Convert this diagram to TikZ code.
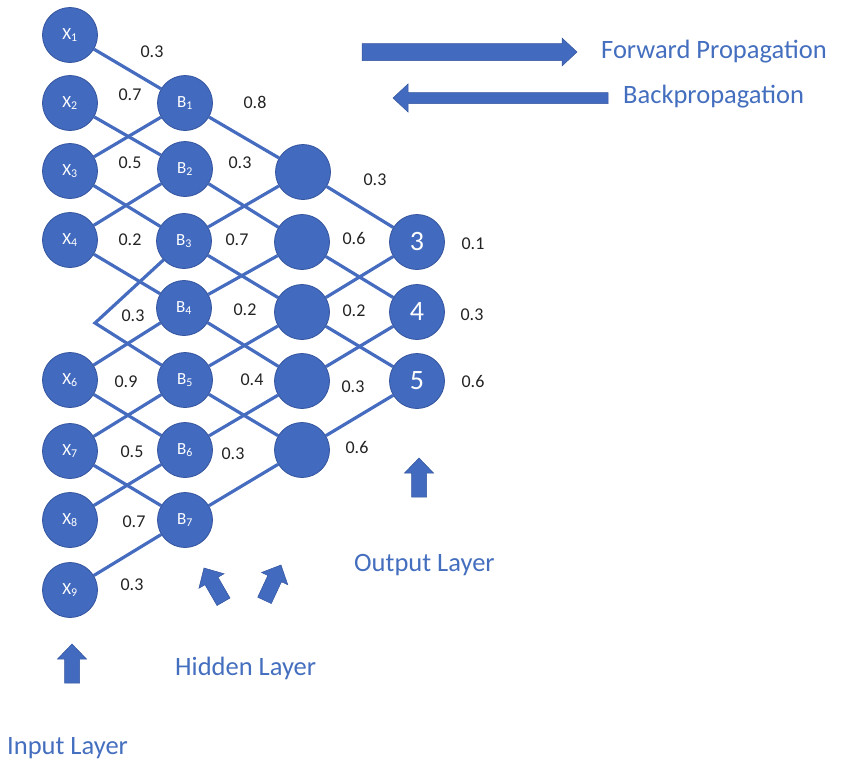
\documentclass[tikz,border=0pt]{standalone}
\usepackage{fontspec}
\setmainfont{Carlito}
\usetikzlibrary{backgrounds}
\definecolor{nodeblue}{RGB}{66,106,190}
\definecolor{edgeblue}{RGB}{70,108,192}
\definecolor{borderblue}{RGB}{52,84,158}
\definecolor{labelblue}{RGB}{68,110,190}
\definecolor{wtgray}{RGB}{35,35,35}
\tikzset{
  neuron/.style={circle, fill=nodeblue, draw=borderblue, line width=0.8pt, minimum size=55pt, inner sep=0pt, text=white, font=\fontsize{17}{19}\selectfont},
  outneuron/.style={neuron, font=\fontsize{28}{30}\selectfont},
  link/.style={draw=edgeblue, line width=3.2pt},
  wt/.style={text=wtgray, font=\fontsize{18}{20}\selectfont, inner sep=0pt},
  layerlabel/.style={text=labelblue, font=\fontsize{26.5}{30}\selectfont, anchor=west, inner sep=0pt},
  blockarrow/.style={fill=nodeblue, draw=borderblue, line width=0.5pt}
}
\newcommand\uparrowshape[3]{%
  \path[blockarrow, shift={(#1,#2)}, rotate=#3] (0,0) -- (14.5,15) -- (7.5,15) -- (7.5,39) -- (-7.5,39) -- (-7.5,15) -- (-14.5,15) -- cycle;}
\begin{document}
\begin{tikzpicture}[x=1pt,y=-1pt]
\useasboundingbox (0,0) rectangle (841,766);
% input layer
\node[neuron] (X1) at (70,35) {X\textsubscript{1}};
\node[neuron] (X2) at (70,103) {X\textsubscript{2}};
\node[neuron] (X3) at (70,171) {X\textsubscript{3}};
\node[neuron] (X4) at (70,240) {X\textsubscript{4}};
\coordinate (X5) at (95,323);
\node[neuron] (X6) at (70,380) {X\textsubscript{6}};
\node[neuron] (X7) at (70,451) {X\textsubscript{7}};
\node[neuron] (X8) at (70,520) {X\textsubscript{8}};
\node[neuron] (X9) at (70,590) {X\textsubscript{9}};
% first hidden layer
\node[neuron] (B1) at (185,103) {B\textsubscript{1}};
\node[neuron] (B2) at (185,169) {B\textsubscript{2}};
\node[neuron] (B3) at (184,241) {B\textsubscript{3}};
\node[neuron] (B4) at (184,308) {B\textsubscript{4}};
\node[neuron] (B5) at (185,380) {B\textsubscript{5}};
\node[neuron] (B6) at (185,450) {B\textsubscript{6}};
\node[neuron] (B7) at (185,520) {B\textsubscript{7}};
% second hidden layer
\node[neuron] (C1) at (303,172) {};
\node[neuron] (C2) at (302,242) {};
\node[neuron] (C3) at (302,312) {};
\node[neuron] (C4) at (302,381) {};
\node[neuron] (C5) at (302,450) {};
% output layer
\node[outneuron] (O3) at (417,242) {3};
\node[outneuron] (O4) at (417,312) {4};
\node[outneuron] (O5) at (417,381) {5};
% connections
\begin{scope}[on background layer]
\draw[link] (X1) -- (B1);
\draw[link] (X2) -- (B2);
\draw[link] (X3) -- (B1);
\draw[link] (X3) -- (B3);
\draw[link] (X4) -- (B2);
\draw[link] (X4) -- (B4);
\draw[link, line join=miter] (B3) -- (X5) -- (B5);
\draw[link] (X6) -- (B4);
\draw[link] (X6) -- (B6);
\draw[link] (X7) -- (B5);
\draw[link] (X7) -- (B7);
\draw[link] (X8) -- (B6);
\draw[link] (X9) -- (B7);
\draw[link] (B1) -- (C1);
\draw[link] (B2) -- (C2);
\draw[link] (B3) -- (C1);
\draw[link] (B3) -- (C3);
\draw[link] (B4) -- (C2);
\draw[link] (B4) -- (C4);
\draw[link] (B5) -- (C3);
\draw[link] (B5) -- (C5);
\draw[link] (B6) -- (C4);
\draw[link] (B7) -- (C5);
\draw[link] (C1) -- (O3);
\draw[link] (C2) -- (O4);
\draw[link] (C3) -- (O3);
\draw[link] (C3) -- (O5);
\draw[link] (C4) -- (O4);
\draw[link] (C5) -- (O5);
\end{scope}
% weights
\node[wt] (w1) at (152,52) {0.3};
\node[wt] (w2) at (130,95) {0.7};
\node[wt] (w3) at (255,102) {0.8};
\node[wt] (w4) at (130,163) {0.5};
\node[wt] (w5) at (240,163) {0.3};
\node[wt] (w6) at (130,240) {0.2};
\node[wt] (w7) at (237,240) {0.7};
\node[wt] (w8) at (133,316) {0.3};
\node[wt] (w9) at (245,310) {0.2};
\node[wt] (w10) at (126,382) {0.9};
\node[wt] (w11) at (252,380) {0.4};
\node[wt] (w12) at (132,452) {0.5};
\node[wt] (w13) at (233,454) {0.3};
\node[wt] (w14) at (134,522) {0.7};
\node[wt] (w15) at (132,585) {0.3};
\node[wt] (w16) at (375,180) {0.3};
\node[wt] (w17) at (354,238) {0.6};
\node[wt] (w18) at (354,311) {0.2};
\node[wt] (w19) at (353,387) {0.3};
\node[wt] (w20) at (357,447) {0.6};
\node[wt] (w21) at (473,244) {0.1};
\node[wt] (w22) at (472,315) {0.3};
\node[wt] (w23) at (473,381) {0.6};
% propagation arrows
\path[blockarrow] (362,43.5) -- (562,43.5) -- (562,38) -- (577,52) -- (562,66) -- (562,60.5) -- (362,60.5) -- cycle;
\path[blockarrow] (608,92.5) -- (408,92.5) -- (408,84) -- (393,98) -- (408,112) -- (408,103.5) -- (608,103.5) -- cycle;
\node[layerlabel] (fwd) at (601,52) {Forward Propagation};
\node[layerlabel] (bwd) at (623,97) {Backpropagation};
% layer arrows
\uparrowshape{419}{458}{0}
\uparrowshape{72}{644}{0}
\uparrowshape{204}{568}{30}
\uparrowshape{281}{565}{-25}
\node[layerlabel] (inl) at (7,748) {Input Layer};
\node[layerlabel] (hidl) at (175,668) {Hidden Layer};
\node[layerlabel] (outl) at (354,565) {Output Layer};
\end{tikzpicture}
\end{document}
